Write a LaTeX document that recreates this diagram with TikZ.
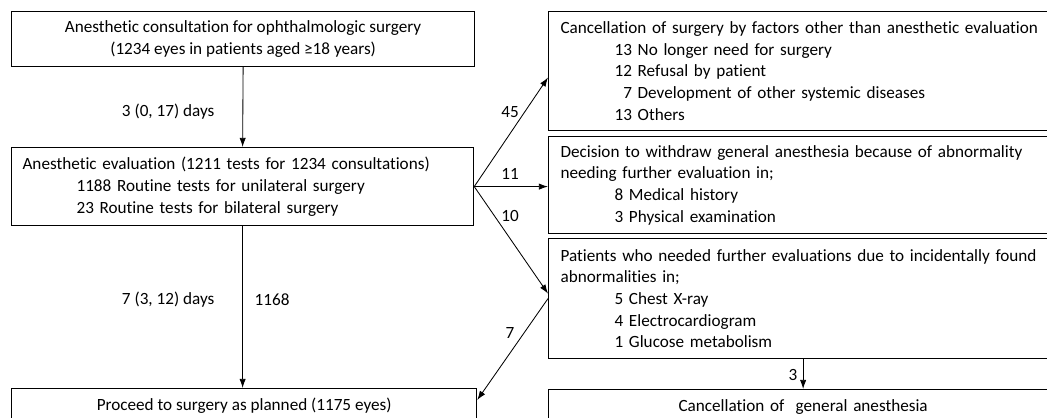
\documentclass[tikz,border=0pt]{standalone}
\usepackage{fontspec}
\setmainfont{Carlito}[Ligatures=NoCommon]
\usetikzlibrary{arrows.meta}

\tikzset{
  box/.style={draw, line width=0.8pt, anchor=north west, inner ysep=0pt,
    font=\fontsize{12.2}{15.4}\selectfont},
  rbox/.style={box, text width=13.5cm, inner xsep=0.3cm, align=left},
  lbl/.style={font=\fontsize{12.2}{14}\selectfont, inner sep=1pt},
  flow/.style={-{Latex[length=6.5pt,width=4.5pt]}, line width=0.6pt},
}
\newcommand{\ind}{\hspace*{1.35cm}}

\begin{document}
\begin{tikzpicture}[x=0.025cm, y=-0.025cm]
  \useasboundingbox (0,0) rectangle (1047,417);
  \clip (0,0) rectangle (1047,417);

  % left column
  \node[box, minimum width=11.575cm, minimum height=1.375cm, align=center] (consult) at (11,11)
    {Anesthetic consultation for ophthalmologic surgery\\(1234 eyes in patients aged ≥18 years)};
  \node[box, text width=11.0cm, inner xsep=0.275cm, minimum height=1.95cm, align=left] (evaluation) at (11,147)
    {Anesthetic evaluation (1211 tests for 1234 consultations)\\
     \ind 1188 Routine tests for unilateral surgery\\
     \ind 23 Routine tests for bilateral surgery};
  \node[box, minimum width=11.625cm, minimum height=0.85cm, align=center] (planned) at (11,388)
    {Proceed to surgery as planned (1175 eyes)};

  % right column
  \node[rbox, minimum height=2.975cm] (others) at (548,11)
    {Cancellation of surgery by factors other than anesthetic evaluation\\
     \ind 13 No longer need for surgery\\
     \ind 12 Refusal by patient\\
     \ind \phantom{1}7 Development of other systemic diseases\\
     \ind 13 Others};
  \node[rbox, minimum height=2.425cm] (withdraw) at (548,136)
    {Decision to withdraw general anesthesia because of abnormality\\
     needing further evaluation in;\\
     \ind 8 Medical history\\
     \ind 3 Physical examination};
  \node[rbox, minimum height=3.0cm] (further) at (548,238)
    {Patients who needed further evaluations due to incidentally found\\
     abnormalities in;\\
     \ind 5 Chest X-ray\\
     \ind 4 Electrocardiogram\\
     \ind 1 Glucose metabolism};
  \node[box, text width=12.125cm, inner xsep=0.3cm, minimum height=0.85cm, align=center] (cancel) at (548,389)
    {Cancellation of\ \ general anesthesia};

  % arrows
  \draw[flow] (consult.south) -- (evaluation.north);
  \draw[flow] (evaluation.south) -- (evaluation.south |- planned.north);
  \draw[flow] (evaluation.east) -- ([yshift=-1.6mm]others.west);
  \draw[flow] (evaluation.east) -- (evaluation.east -| withdraw.west);
  \draw[flow] (evaluation.east) -- ([yshift=1.25mm]further.west);
  \draw[flow] (further.west) -- ([yshift=-3mm]planned.north east);
  \draw[flow] (further.south -| cancel.north) -- (cancel.north);

  % labels
  \node[lbl, anchor=east] (days1) at (216,112) {3 (0, 17) days};
  \node[lbl, anchor=east] (days2) at (216,300) {7 (3, 12) days};
  \node[lbl, anchor=west] (n1168) at (253,300) {1168};
  \node[lbl] (n45) at (510,112) {45};
  \node[lbl] (n11) at (510,174) {11};
  \node[lbl] (n10) at (510,216) {10};
  \node[lbl] (n7) at (510,333) {7};
  \node[lbl] (n3) at (793,375) {3};

\end{tikzpicture}
\end{document}
